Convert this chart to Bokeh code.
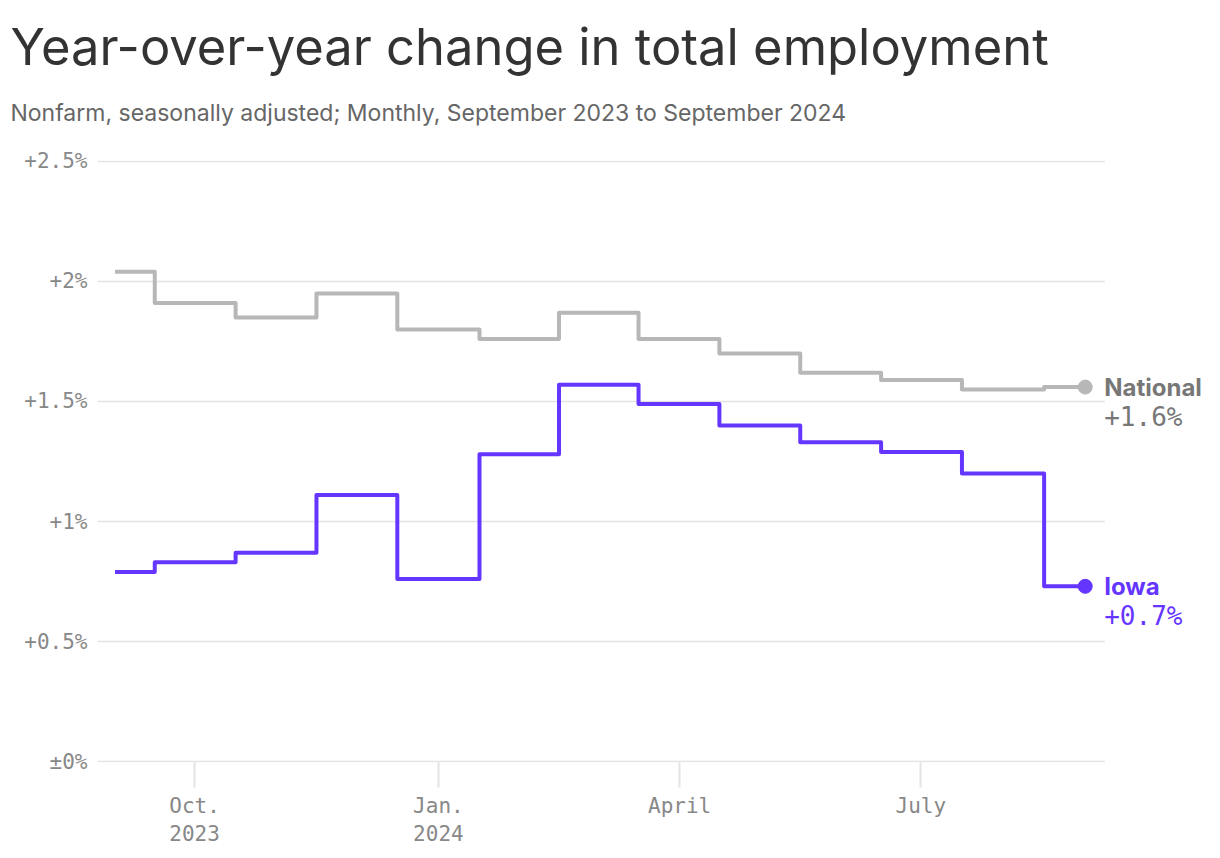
import pandas as pd
from bokeh.plotting import figure
from bokeh.models import Range1d, FixedTicker, Label, Title
from bokeh.embed import file_html
from bokeh.resources import INLINE

months = ["2023-09", "2023-10", "2023-11", "2023-12", "2024-01", "2024-02", "2024-03",
          "2024-04", "2024-05", "2024-06", "2024-07", "2024-08", "2024-09"]
national = [2.04, 1.91, 1.85, 1.95, 1.80, 1.76, 1.87, 1.76, 1.70, 1.62, 1.59, 1.55, 1.56]
iowa = [0.79, 0.83, 0.87, 1.11, 0.76, 1.28, 1.57, 1.49, 1.40, 1.33, 1.29, 1.20, 0.73]

x_tick_dates = ["2023-10-01", "2024-01-01", "2024-04-01", "2024-07-01"]
x_tick_labels = ["Oct.\n2023", "Jan.\n2024", "April", "July"]
y_ticks = [0, 0.5, 1, 1.5, 2, 2.5]
y_tick_labels = ["±0%", "+0.5%", "+1%", "+1.5%", "+2%", "+2.5%"]

EPOCH = pd.Timestamp("1970-01-01")
def days(s):
    return int((pd.Timestamp(s) - EPOCH).days)

xs = [days(m + "-01") for m in months]
xticks = [days(d) for d in x_tick_dates]

GRAY = "#b7b7b7"
PURPLE = "#6536ff"
MONO = "DejaVu Sans Mono"
SANS = "Inter"

x_left = days("2023-10-01") - 36.6
x_grid_right = days("2024-07-01") + 69.4
x_right = days("2024-07-01") + 107.0

p = figure(width=1204, height=850, output_backend="svg", toolbar_location=None, title=None,
           x_range=Range1d(x_left, x_right),
           y_range=Range1d(-0.004, 2.504),
           min_border_left=97, min_border_right=0, min_border_top=160, min_border_bottom=88)
p.outline_line_color = None
p.background_fill_color = "white"
p.border_fill_color = "white"

p.xgrid.grid_line_color = None
p.ygrid.grid_line_color = None

# horizontal gridlines at the y ticks, stopping before the end labels
p.segment(x0=[x_left] * len(y_ticks), x1=[x_grid_right] * len(y_ticks), y0=y_ticks, y1=y_ticks,
          line_color="#e3e3e3", line_width=1.5)

p.yaxis.ticker = FixedTicker(ticks=y_ticks)
p.yaxis.major_label_overrides = dict(zip(y_ticks, y_tick_labels))
p.yaxis.axis_line_color = None
p.yaxis.major_tick_line_color = None
p.yaxis.minor_tick_line_color = None
p.yaxis.major_label_standoff = 4
p.yaxis.major_label_text_font = MONO
p.yaxis.major_label_text_font_size = "21px"
p.yaxis.major_label_text_color = "#888888"

p.xaxis.ticker = FixedTicker(ticks=xticks)
p.xaxis.major_label_overrides = dict(zip(xticks, x_tick_labels))
p.xaxis.axis_line_color = None
p.xaxis.minor_tick_line_color = None
p.xaxis.major_tick_in = 0
p.xaxis.major_tick_out = 25
p.xaxis.major_tick_line_color = "#e3e3e3"
p.xaxis.major_tick_line_width = 2
p.xaxis.major_label_standoff = 6
p.xaxis.major_label_text_font = MONO
p.xaxis.major_label_text_font_size = "21px"
p.xaxis.major_label_text_color = "#888888"

p.step(xs, national, mode="center", line_color=GRAY, line_width=4, line_join="round")
p.step(xs, iowa, mode="center", line_color=PURPLE, line_width=4, line_join="round")
p.scatter([xs[-1]], [national[-1]], size=14, color=GRAY)
p.scatter([xs[-1]], [iowa[-1]], size=14, color=PURPLE)

for name, vals, col in [("National", national, "#777777"), ("Iowa", iowa, PURPLE)]:
    p.add_layout(Label(x=xs[-1], y=vals[-1], x_offset=19, y_offset=0, text=name,
                       text_font=SANS, text_font_style="bold", text_font_size="24px",
                       text_color=col, text_baseline="middle"))
    p.add_layout(Label(x=xs[-1], y=vals[-1], x_offset=19, y_offset=-30, text=f"+{vals[-1]:.1f}%",
                       text_font=MONO, text_font_size="26px",
                       text_color=col, text_baseline="middle"))

p.add_layout(Title(text=" ", text_font_size="15px"), "above")
p.add_layout(Title(text="Nonfarm, seasonally adjusted; Monthly, September 2023 to September 2024",
                   text_font=SANS, text_font_size="23px", text_color="#666666",
                   text_font_style="normal", align="left", offset=-87), "above")
p.add_layout(Title(text="Year-over-year change in total employment",
                   text_font=SANS, text_font_size="50.7px", text_color="#333333",
                   text_font_style="normal", align="left", offset=-87, standoff=25,
                   vertical_align="top"), "above")

open("out.html", "w").write(file_html(p, INLINE))
